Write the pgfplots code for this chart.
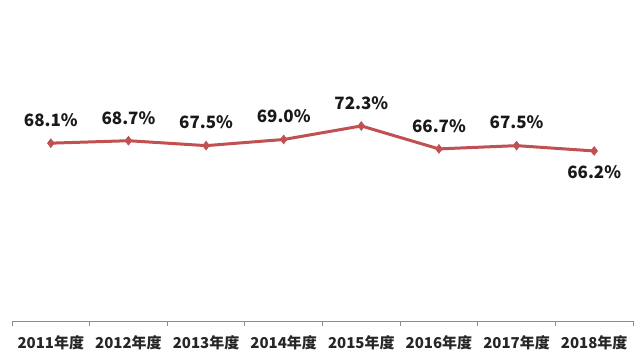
\documentclass[border=0pt]{standalone}
\usepackage{pgfplots}
\pgfplotsset{compat=1.18}
\usepackage{pgfplotstable}
\usepackage{fontspec}
\setmainfont{Noto Sans CJK SC}
\definecolor{lineRed}{RGB}{192,80,82}
\definecolor{axGray}{RGB}{140,140,140}
\pgfplotstableread{
x y pos
0 68.1 23
1 68.7 23
2 67.5 23
3 69.0 23
4 72.3 23
5 66.7 23
6 67.5 23
7 66.2 -21
}\datatab
\begin{document}
\begin{tikzpicture}
\useasboundingbox (0,0) rectangle (644pt,360pt);
\begin{axis}[
  at={(12pt,39pt)}, anchor=south west,
  scale only axis, width=621pt, height=282pt,
  xmin=-0.5, xmax=7.5, ymin=24.74, ymax=93.5,
  clip=false,
  axis x line*=bottom, axis y line=none,
  axis line style={axGray, line width=0.8pt},
  xtick={0,...,7},
  xticklabels={2011年度,2012年度,2013年度,2014年度,2015年度,2016年度,2017年度,2018年度},
  minor xtick={-0.5,0.5,...,7.5},
  major tick length=0pt, minor tick length=5pt,
  tick align=outside,
  minor tick style={axGray, line width=0.8pt},
  xticklabel style={font=\fontsize{15}{15}\selectfont\bfseries, yshift=-11pt, text=black!85},
  /pgf/number format/assume math mode=true,
]
\addplot[lineRed, line width=3pt, mark=diamond*, mark size=4.5pt,
  mark options={fill=lineRed, draw=lineRed, line width=0.5pt},
  visualization depends on={\thisrow{pos} \as \labpos},
  nodes near coords={\pgfmathprintnumber[fixed,precision=1,fixed zerofill]{\pgfplotspointmeta}\%},
  every node near coord/.append style={anchor=center, yshift=\labpos, font=\fontsize{17}{17}\selectfont\bfseries, text=black!90},
] table[x=x, y=y] {\datatab};
\end{axis}
\end{tikzpicture}
\end{document}
